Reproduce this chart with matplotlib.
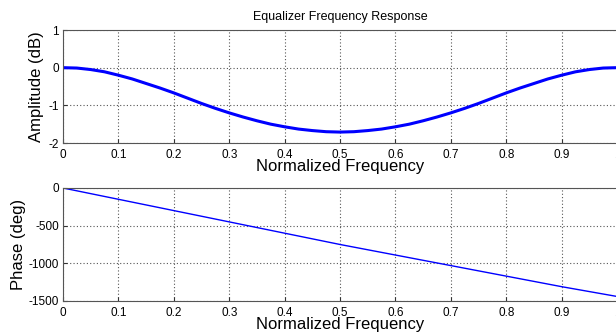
import matplotlib.pyplot as plt

plt.rcParams["font.family"] = ["Liberation Sans", "DejaVu Sans"]
plt.rcParams["axes.unicode_minus"] = False

# values
freq = [0, 0.025, 0.05, 0.075, 0.1, 0.125, 0.15, 0.175, 0.2, 0.225, 0.25,
        0.275, 0.3, 0.325, 0.35, 0.375, 0.4, 0.425, 0.45, 0.475, 0.5,
        0.525, 0.55, 0.575, 0.6, 0.625, 0.65, 0.675, 0.7, 0.725, 0.75,
        0.775, 0.8, 0.825, 0.85, 0.875, 0.9, 0.925, 0.95, 0.975, 1.0]
amp_db = [0, -0.01, -0.05, -0.11, -0.2, -0.3, -0.42, -0.54, -0.67, -0.81, -0.95,
          -1.08, -1.2, -1.31, -1.41, -1.5, -1.57, -1.63, -1.67, -1.7, -1.71,
          -1.7, -1.67, -1.63, -1.57, -1.5, -1.41, -1.31, -1.2, -1.08, -0.95,
          -0.81, -0.67, -0.54, -0.42, -0.3, -0.2, -0.11, -0.05, -0.01, 0]

phase_freq = [0, 0.1, 0.2, 0.3, 0.4, 0.5, 0.6, 0.7, 0.8, 0.9, 1.0]
phase_deg = [0, -150, -300, -450, -600, -750, -890, -1030, -1170, -1310, -1440]

xticks = [0, 0.1, 0.2, 0.3, 0.4, 0.5, 0.6, 0.7, 0.8, 0.9, 1]
xticklabels = ["0", "0.1", "0.2", "0.3", "0.4", "0.5", "0.6", "0.7", "0.8", "0.9", "1"]

fig = plt.figure(figsize=(6.16, 3.36), dpi=100)
ax1 = fig.add_axes([0.1023, 0.5744, 0.8994, 0.3363])
ax2 = fig.add_axes([0.1023, 0.1042, 0.8994, 0.3363])


def style(ax):
    ax.set_xlim(0, 1)
    ax.set_xticks(xticks)
    ax.set_xticklabels(xticklabels)
    ax.tick_params(direction="in", length=3, labelsize=8.5, colors="#333333",
                   labelcolor="black", pad=3)
    ax.tick_params(axis="x", pad=4)
    ax.grid(True, linestyle=(0, (1, 2)), color="#555555", linewidth=0.8)
    for s in ax.spines.values():
        s.set_color("#555555")
        s.set_linewidth(0.8)
    ax.set_xlabel("Normalized Frequency", fontsize=12, labelpad=-1)


ax1.plot(freq, amp_db, color="#0000ff", linewidth=2.2)
ax1.set_ylim(-2, 1)
ax1.set_yticks([-2, -1, 0, 1])
style(ax1)
ax1.set_ylabel("Amplitude (dB)", fontsize=12, labelpad=3)

ax2.plot(phase_freq, phase_deg, color="#0000ff", linewidth=1.0)
ax2.set_ylim(-1500, 0)
ax2.set_yticks([-1500, -1000, -500, 0])
style(ax2)
ax2.set_ylabel("Phase (deg)", fontsize=12, labelpad=2)

fig.text(340 / 616, 1 - 17 / 336, "Equalizer Frequency Response",
         ha="center", va="center", fontsize=9)

fig.savefig("out.png", dpi=100, facecolor="white")
